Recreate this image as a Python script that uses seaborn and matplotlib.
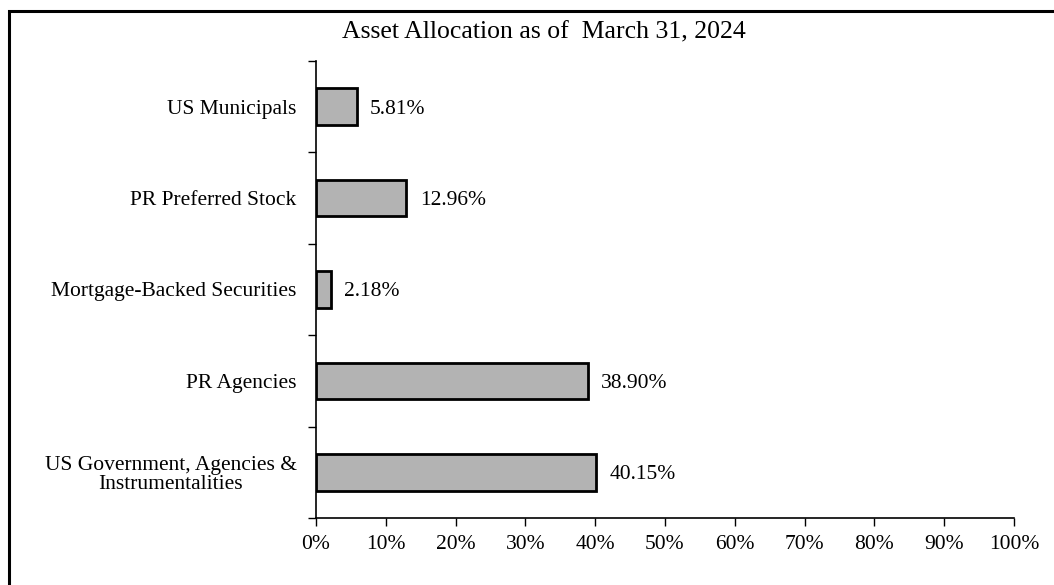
import matplotlib
matplotlib.use("Agg")
import matplotlib.pyplot as plt
import seaborn as sns
import pandas as pd
from matplotlib.patches import Rectangle
from matplotlib.ticker import FixedLocator

categories = ["US Municipals", "PR Preferred Stock", "Mortgage-Backed Securities",
              "PR Agencies", "US Government, Agencies &\nInstrumentalities"]
values = [5.81, 12.96, 2.18, 38.90, 40.15]
value_labels = ["5.81%", "12.96%", "2.18%", "38.90%", "40.15%"]
xticks = [0, 10, 20, 30, 40, 50, 60, 70, 80, 90, 100]
xtick_labels = [f"{t}%" for t in xticks]
title = "Asset Allocation as of  March 31, 2024"

sns.set_theme(style="white")
plt.rcParams['font.family'] = ['Liberation Serif', 'DejaVu Serif']
plt.rcParams['text.color'] = 'black'
plt.rcParams['xtick.color'] = 'black'
plt.rcParams['ytick.color'] = 'black'
plt.rcParams['axes.labelcolor'] = 'black'

df = pd.DataFrame({"cat": categories, "val": values})

fig = plt.figure(figsize=(10.54, 5.85), dpi=100)
ax = fig.add_axes([316/1054, 1 - 518/585, (1014-316)/1054, (518-61)/585])

sns.barplot(data=df, y="cat", x="val", orient="h", ax=ax, color="#b3b3b3",
            saturation=1, width=0.4, edgecolor="black", linewidth=2)

ax.set_xlim(0, 100)
ax.set_ylim(len(categories) - 0.5, -0.5)
ax.set_xticks(xticks)
ax.set_xticklabels(xtick_labels, fontsize=15.5)
ax.set_xlabel("")
ax.set_ylabel("")
ax.set_yticks(range(len(categories)))
ax.set_yticklabels(categories, fontsize=15.5, multialignment="center", linespacing=1.05)
ax.tick_params(axis="y", length=0, pad=14)
ax.yaxis.set_minor_locator(FixedLocator([i - 0.5 for i in range(len(categories) + 1)]))
ax.tick_params(axis="y", which="minor", length=6, width=1, color="black", direction="out", left=True)
ax.tick_params(axis="x", length=6, width=1, color="black", direction="out", bottom=True, pad=6)

for s in ["top", "right"]:
    ax.spines[s].set_visible(False)
for s in ["left", "bottom"]:
    ax.spines[s].set_color("black")
    ax.spines[s].set_linewidth(1.2)

for i, (v, lab) in enumerate(zip(values, value_labels)):
    ax.text(v + 1.9, i, lab, va="center_baseline", ha="left", fontsize=15.5, color="black")

fig.text(544/1054, 1 - 32/585, title, ha="center", va="center", fontsize=18.5, color="black")

fig.patches.append(Rectangle((9/1054, -0.05), 1.1, 1 - 11/585 + 0.05,
                             transform=fig.transFigure, fill=False,
                             edgecolor="black", linewidth=2.2, zorder=10))

fig.savefig("out.png", dpi=100)
